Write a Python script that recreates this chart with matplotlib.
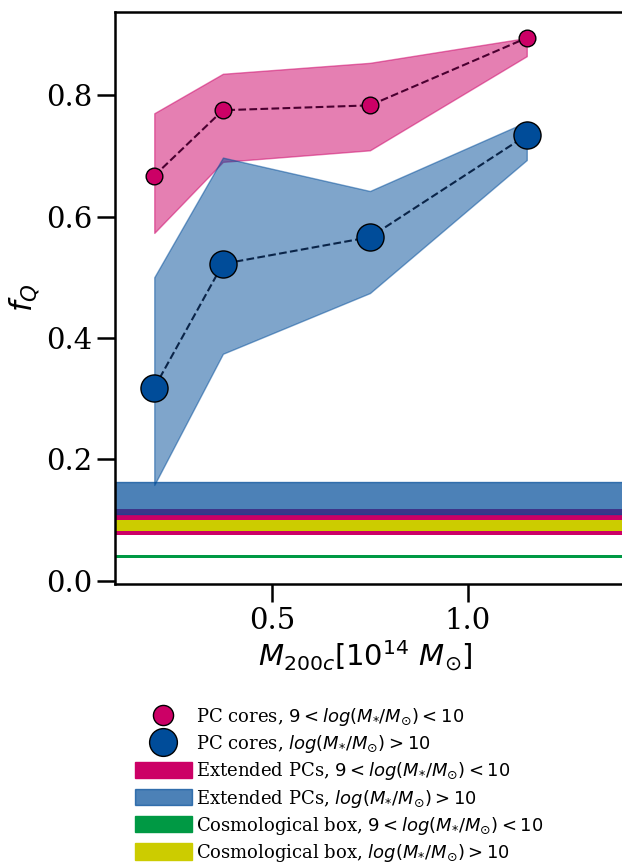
import numpy as np
import matplotlib
matplotlib.use("Agg")
import matplotlib.pyplot as plt
from matplotlib.lines import Line2D
from matplotlib.patches import Patch

plt.rcParams['font.family'] = 'DejaVu Serif'
plt.rcParams['mathtext.fontset'] = 'dejavusans'

# halo mass bins [1e14 Msun]
mass = [0.2, 0.375, 0.75, 1.15]

# PC cores, 9 < log M* < 10
fq_low = [0.667, 0.775, 0.783, 0.894]
fq_low_lo = [0.573, 0.690, 0.709, 0.864]
fq_low_hi = [0.770, 0.835, 0.853, 0.894]

# PC cores, log M* > 10
fq_high = [0.318, 0.522, 0.566, 0.734]
fq_high_lo = [0.158, 0.374, 0.474, 0.693]
fq_high_hi = [0.500, 0.697, 0.642, 0.756]

# extended PCs and cosmological box (ranges)
ext_low = [0.076, 0.118]
ext_high = [0.110, 0.163]
box_low = [0.0375, 0.0425]
box_high = [0.082, 0.100]

pink = '#cc0066'
blue = '#004c99'
green = '#009944'
yellow = '#cccc00'

fig = plt.figure(figsize=(6.22, 8.63), dpi=100)
ax = fig.add_axes([0.185, 0.3233, 0.851, 0.663])

ax.fill_between(mass, fq_low_lo, fq_low_hi, color=pink, alpha=0.5, lw=1)
ax.fill_between(mass, fq_high_lo, fq_high_hi, color=blue, alpha=0.5, lw=1)

ax.axhspan(ext_low[0], ext_low[1], color=pink, lw=0)
ax.axhspan(box_high[0], box_high[1], color=yellow, lw=0)
ax.axhspan(ext_high[0], ext_high[1], color=blue, alpha=0.7, lw=1)
ax.axhspan(box_low[0], box_low[1], color=green, lw=0)

ax.plot(mass, fq_low, ls='--', color='#4a0030', lw=1.5, marker='o', ms=12,
        mfc=pink, mec='k', mew=1)
ax.plot(mass, fq_high, ls='--', color='#0a2448', lw=1.5, marker='o', ms=19.5,
        mfc=blue, mec='k', mew=1)

ax.set_xlim(0.1, 1.45)
ax.set_ylim(-0.005, 0.937)
ax.set_xticks([0.5, 1.0])
ax.set_yticks([0.0, 0.2, 0.4, 0.6, 0.8])
ax.tick_params(labelsize=21, length=13, width=1.8)
for s in ax.spines.values():
    s.set_linewidth(1.8)

ax.set_xlabel(r'$M_{200c}[10^{14}\ M_{\odot}]$', fontsize=21, labelpad=2)
ax.xaxis.set_label_coords(0.4726, -0.095)
ax.set_ylabel(r'$f_Q$', fontsize=22, labelpad=3)

handles = [
    Line2D([], [], ls='none', marker='o', ms=14.5, mfc=pink, mec='k', mew=1),
    Line2D([], [], ls='none', marker='o', ms=20, mfc=blue, mec='k', mew=1),
    Patch(color=pink),
    Patch(color=blue, alpha=0.7),
    Patch(color=green),
    Patch(color=yellow),
]
labels = [
    r'PC cores, $9<log(M_{*}/M_{\odot})<10$',
    r'PC cores, $log(M_{*}/M_{\odot})>10$',
    r'Extended PCs, $9<log(M_{*}/M_{\odot})<10$',
    r'Extended PCs, $log(M_{*}/M_{\odot})>10$',
    r'Cosmological box, $9<log(M_{*}/M_{\odot})<10$',
    r'Cosmological box, $log(M_{*}/M_{\odot})>10$',
]
fig.legend(handles, labels, loc='center', bbox_to_anchor=(0.545, 0.0904),
           frameon=False, fontsize=13, handlelength=3.2, handletextpad=0.2,
           labelspacing=0.28, handleheight=1.0)

fig.savefig('out.png', dpi=100)
